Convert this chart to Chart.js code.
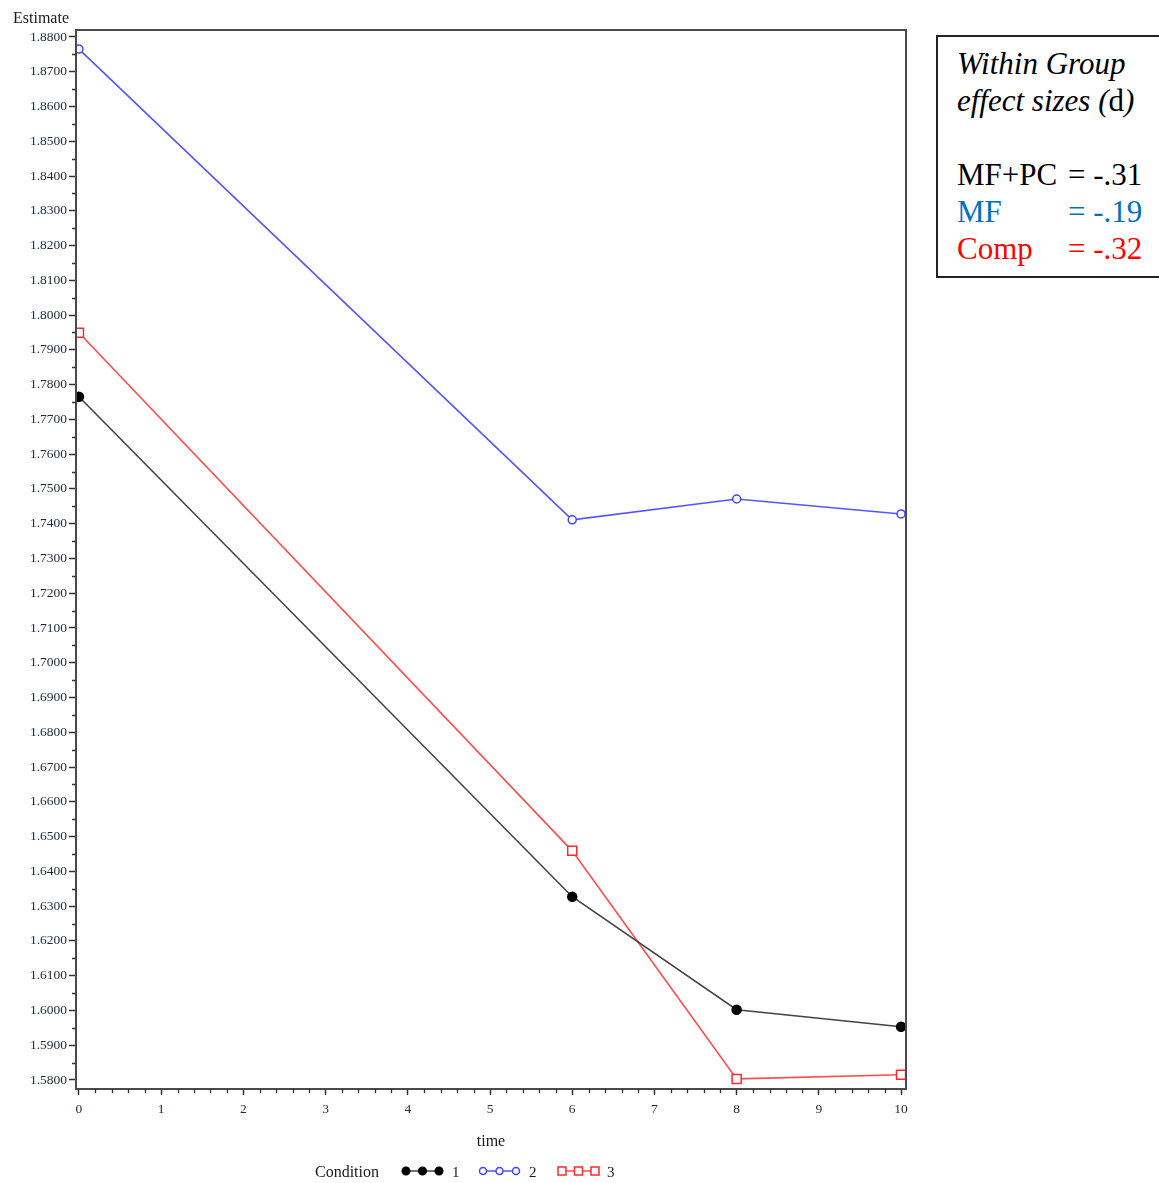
<!DOCTYPE html>
<html>
<head>
<meta charset="utf-8">
<script src="https://cdn.jsdelivr.net/npm/chart.js@4"></script>
<style>
  html, body { margin: 0; padding: 0; background: #ffffff; }
  #wrap { position: relative; width: 1159px; height: 1183px; overflow: hidden; }
  #c { position: absolute; left: 0; top: 0; }
  #note {
    position: absolute; left: 936px; top: 35px; width: 240px; height: 243px;
    border: 2px solid #222; box-sizing: border-box;
    font-family: "Liberation Serif", "Times New Roman", serif; font-size: 31px;
    line-height: 37px; color: #000; padding: 8px 0 0 19px;
  }
  #note .lab { display: inline-block; width: 111px; }
  .it { font-style: italic; }
</style>
</head>
<body>
<div id="wrap">
  <canvas id="c" width="925" height="1183"></canvas>
  <div id="note">
    <div class="it">Within Group</div>
    <div><span class="it">effect sizes (</span>d<span class="it">)</span></div>
    <div>&nbsp;</div>
    <div><span class="lab">MF+PC</span>= -.31</div>
    <div style="color:#0070C0"><span class="lab">MF</span>= -.19</div>
    <div style="color:#ff0000"><span class="lab">Comp</span>= -.32</div>
  </div>
</div>
<script>
// ---- data ----
const times = [0, 6, 8, 10];
const cond1 = [1.7765, 1.6327, 1.6002, 1.5953];
const cond2 = [1.8765, 1.7411, 1.7471, 1.7428];
const cond3 = [1.7949, 1.6459, 1.5803, 1.5815];
const conditionLabels = ['1', '2', '3'];
const xTicks = [0, 1, 2, 3, 4, 5, 6, 7, 8, 9, 10];
const yTicks = [1.58, 1.59, 1.60, 1.61, 1.62, 1.63, 1.64, 1.65, 1.66, 1.67, 1.68,
                1.69, 1.70, 1.71, 1.72, 1.73, 1.74, 1.75, 1.76, 1.77, 1.78,
                1.79, 1.80, 1.81, 1.82, 1.83, 1.84, 1.85, 1.86, 1.87, 1.88];

const toPts = (vals) => times.map((t, i) => ({ x: t, y: vals[i] }));

const styles = [
  { line: '#444444', point: '#000000', fill: '#000000', style: 'circle', r: 4.5, lr: 3.8 },
  { line: '#5555ff', point: '#4444ff', fill: '#ffffff', style: 'circle', r: 4, lr: 3.5 },
  { line: '#ff4d4d', point: '#ff2a2a', fill: '#ffffff', style: 'rect', r: 6.4, lr: 4 }
];
const series = [cond1, cond2, cond3];

const datasets = series.map((vals, i) => ({
  label: conditionLabels[i],
  data: toPts(vals),
  borderColor: styles[i].line,
  borderWidth: 1.6,
  pointStyle: styles[i].style,
  pointRadius: styles[i].r,
  pointBorderColor: styles[i].point,
  pointBackgroundColor: styles[i].fill,
  pointBorderWidth: 1.5,
  tension: 0,
  fill: false
}));

const serif = '"Liberation Serif", "Times New Roman", serif';

const decor = {
  id: 'decor',
  afterDraw(chart) {
    const ctx = chart.ctx;
    const a = chart.chartArea;
    const xs = chart.scales.x, ys = chart.scales.y;
    ctx.save();
    // frame
    ctx.strokeStyle = '#4a4a4a';
    ctx.lineWidth = 2;
    ctx.strokeRect(a.left, a.top, a.right - a.left, a.bottom - a.top);
    // minor ticks
    ctx.strokeStyle = '#333';
    ctx.lineWidth = 1.3;
    ctx.beginPath();
    for (let i = 0; i < xTicks.length - 1; i++) {
      for (let k = 1; k < 5; k++) {
        const v = xTicks[i] + (xTicks[i + 1] - xTicks[i]) * k / 5;
        const px = Math.round(xs.getPixelForValue(v)) + 0.5;
        ctx.moveTo(px, a.bottom); ctx.lineTo(px, a.bottom + 4);
      }
    }
    for (let i = 0; i < yTicks.length - 1; i++) {
      const v = (yTicks[i] + yTicks[i + 1]) / 2;
      const py = Math.round(ys.getPixelForValue(v)) + 0.5;
      ctx.moveTo(a.left, py); ctx.lineTo(a.left - 4, py);
    }
    ctx.stroke();
    // titles
    ctx.fillStyle = '#1a1a1a';
    ctx.font = '16px ' + serif;
    ctx.textBaseline = 'middle';
    ctx.textAlign = 'left';
    ctx.fillText('Estimate', 13, 19);
    ctx.textAlign = 'center';
    ctx.fillText('time', (a.left + a.right) / 2, 1142);
    // legend
    ctx.textAlign = 'left';
    ctx.fillText('Condition', 315, 1173);
    const starts = [406, 483, 562];
    const labelsX = [452, 529, 607];
    datasets.forEach((d, i) => {
      const s = styles[i];
      const x0 = starts[i], y0 = 1171;
      ctx.strokeStyle = s.line;
      ctx.lineWidth = 1.6;
      ctx.beginPath(); ctx.moveTo(x0, y0); ctx.lineTo(x0 + 33, y0); ctx.stroke();
      for (let k = 0; k < 3; k++) {
        const px = x0 + k * 16.5;
        ctx.beginPath();
        if (s.style === 'rect') {
          ctx.rect(px - s.lr, y0 - s.lr, 2 * s.lr, 2 * s.lr);
        } else {
          ctx.arc(px, y0, s.lr, 0, Math.PI * 2);
        }
        ctx.fillStyle = s.fill; ctx.fill();
        ctx.strokeStyle = s.point; ctx.lineWidth = 1.5; ctx.stroke();
      }
      ctx.fillStyle = '#1a1a1a';
      ctx.font = '15px ' + serif;
      ctx.fillText(d.label, labelsX[i], 1173);
    });
    ctx.restore();
  }
};

new Chart(document.getElementById('c'), {
  type: 'line',
  data: { datasets },
  options: {
    responsive: false,
    animation: false,
    layout: { padding: { left: 0, top: 30, right: 19, bottom: 0 } },
    plugins: { legend: { display: false }, tooltip: { enabled: false } },
    scales: {
      x: {
        type: 'linear',
        min: -0.036,
        max: 10.06,
        afterBuildTicks: (s) => { s.ticks = xTicks.map(v => ({ value: v })); },
        afterFit: (s) => { s.height = 94; },
        grid: { display: true, drawOnChartArea: false, drawTicks: true, tickLength: 6, tickColor: '#333', tickWidth: 1.5 },
        border: { display: true, color: '#4a4a4a', width: 2 },
        ticks: {
          autoSkip: false, maxRotation: 0, padding: 6,
          color: '#1f2a3a', font: { family: serif, size: 13.5 },
          callback: (v) => String(v)
        }
      },
      y: {
        type: 'linear',
        min: 1.5774,
        max: 1.882,
        afterBuildTicks: (s) => { s.ticks = yTicks.map(v => ({ value: v })); },
        afterFit: (s) => { s.width = 76; },
        grid: { display: true, drawOnChartArea: false, drawTicks: true, tickLength: 7, tickColor: '#333', tickWidth: 1.5 },
        border: { display: true, color: '#4a4a4a', width: 2 },
        ticks: {
          autoSkip: false, padding: 2,
          color: '#1f2a3a', font: { family: serif, size: 13.5 },
          callback: (v) => Number(v).toFixed(4)
        }
      }
    }
  },
  plugins: [decor]
});
</script>
</body>
</html>
